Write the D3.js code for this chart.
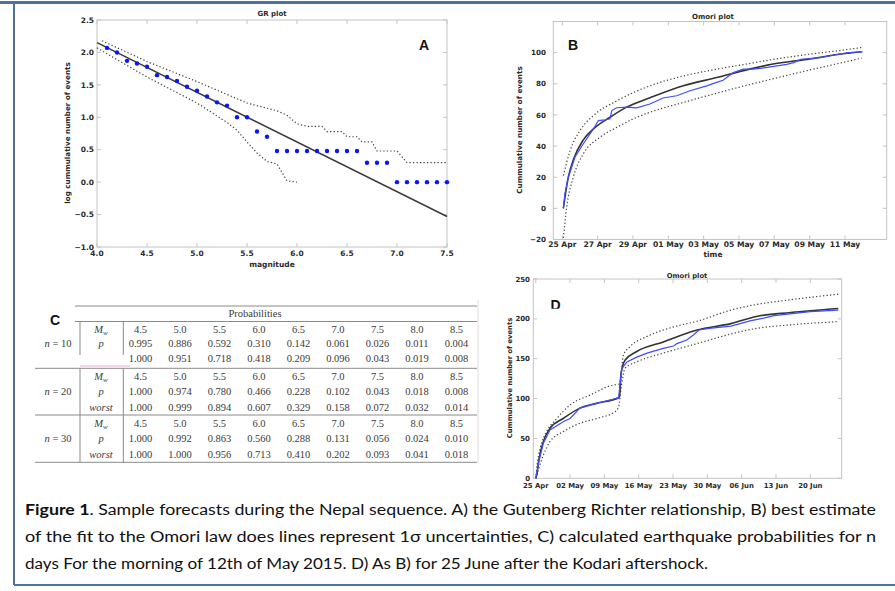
<!DOCTYPE html>
<html><head><meta charset="utf-8">
<script src="https://cdn.jsdelivr.net/npm/d3@7"></script>
<style>body{margin:0;background:#fff}svg{display:block}</style>
</head><body>
<svg id="c" width="895" height="591"></svg>
<script>
// ---------- DATA ----------
// Panel A: GR plot
const grMag = [4.1,4.2,4.3,4.4,4.5,4.6,4.7,4.8,4.9,5.0,5.1,5.2,5.3,5.4,5.5,5.6,5.7,5.8,5.9,6.0,6.1,6.2,6.3,6.4,6.5,6.6,6.7,6.8,6.9,7.0,7.1,7.2,7.3,7.4,7.5];
const grLogN = [2.07,2.00,1.87,1.83,1.78,1.65,1.62,1.56,1.47,1.41,1.32,1.23,1.18,1.00,1.00,0.78,0.70,0.48,0.48,0.48,0.48,0.48,0.48,0.48,0.48,0.48,0.30,0.30,0.30,0.00,0.00,0.00,0.00,0.00,0.00];
const grFitMag = [4.0,7.5];
const grFitVal = [2.15,-0.53];
const grUpMag = [4.05,4.5,5.0,5.5,5.8,5.9,6.0,6.1,6.25,6.3,6.45,6.5,6.6,6.65,6.75,6.8,7.0,7.1,7.5];
const grUpVal = [2.18,1.86,1.55,1.22,1.1,1.03,0.9,0.86,0.86,0.78,0.78,0.70,0.70,0.62,0.62,0.48,0.48,0.30,0.30];
const grLoMag = [4.0,4.5,5.0,5.3,5.4,5.5,5.6,5.7,5.8,5.85,5.9,6.0];
const grLoVal = [2.07,1.62,1.22,0.92,0.8,0.62,0.45,0.32,0.28,0.15,0.02,0.0];
const grXTicks = [4.0,4.5,5.0,5.5,6.0,6.5,7.0,7.5];
const grYTicks = [-1.0,-0.5,0.0,0.5,1.0,1.5,2.0,2.5];

// Panel B: Omori plot (days since 25 Apr)
const bFitT = [0.06,0.34,0.62,1.19,1.76,2.7,3.64,4.96,6.85,8.74,10.6,11.85,13.86,16,16.94];
const bFitV = [0,20,31,44,51,58.5,65,71,78.7,84,89.4,92.5,95.7,99.4,100.6];
const bUpT = [0.06,0.44,1.0,1.76,3.08,4.96,6.85,8.74,10.6,11.85,13.86,16,16.94];
const bUpV = [21,37,50,59.6,69,78.7,85,89.4,93,95.5,98.8,101.8,103.3];
const bLoT = [0.06,0.25,0.62,1.19,2.13,3.08,4.02,4.96,6.85,8.74,10.6,11.85,13.86,16,16.94];
const bLoV = [-19,1,20,35,45.7,52,57.5,61.7,68,74,79.5,83,88.5,94,96.5];
const bObsT = [0.06,0.15,0.34,0.72,1.19,1.76,2.04,2.42,2.7,2.8,3.08,3.64,4.2,4.96,5.7,6.47,7.23,8.17,8.74,9.1,9.68,10.24,10.8,11.6,12.7,13.1,13.5,14.6,15.4,16.2,17.0];
const bObsV = [0,9.6,20,33,41.5,51,56.4,56.8,57.5,62.8,64.6,65,64.5,67,70.9,72.3,75.5,78.7,80.9,82.3,87.2,89.4,89.4,90.5,92.5,93.6,95.7,96.8,98.5,100,100.4];
const bXTicks = [0,2,4,6,8,10,12,14,16];
const bXLabels = ["25 Apr","27 Apr","29 Apr","01 May","03 May","05 May","07 May","09 May","11 May"];
const bYTicks = [-20,0,20,40,60,80,100];

// Panel D: Omori plot (days since 25 Apr)
const dFitT = [0,0.2,0.6,1.55,2.9,5.6,9,12.4,16.9,17.1,17.3,17.6,18.2,20.6,26,32.9,39.8,45,52,61.7];
const dFitV = [0,4,22,46,62.7,75,88,94,101,103,125,138,148,159,171,186,194,203,208,213];
const dUpT = [0,0.3,0.9,2.2,4.3,7,11.1,15.8,17.0,17.2,17.5,17.9,19.2,22.7,26,29.4,32.9,39.8,45,52,61.7];
const dUpV = [0,18,37.6,58.5,75,92,104.5,117,118,110,135,155,165,178,186,192,197,211,218,224,231];
const dLoT = [0,0.2,1.55,2.9,5.6,9,12.4,16.2,16.9,17.5,18.2,20.6,26,32.9,39.8,45,52,61.7];
const dLoV = [0,4,29,46,58.5,69,75,83.6,90,117,138,146,157,169,181,188,192.5,196.6];
const dObsT = [0,0.6,1.55,2.9,5.6,7,9,12.4,16.9,17.5,18.6,20.6,22.7,26,28.1,28.8,30.8,32.2,33.3,35.4,39.8,43.7,46.5,48.6,56,61.7];
const dObsV = [0,20,44,60.6,71,75,88,94,101,137,146,152,157,163,166,169,173.5,180,186,188,191,197.5,201,204,209,211];
const dXTicks = [0,7,14,21,28,35,42,49,56];
const dXLabels = ["25 Apr","02 May","09 May","16 May","23 May","30 May","06 Jun","13 Jun","20 Jun"];
const dYTicks = [0,50,100,150,200,250];

// Table C
const tblMw = ["4.5","5.0","5.5","6.0","6.5","7.0","7.5","8.0","8.5"];
const n10p = ["0.995","0.886","0.592","0.310","0.142","0.061","0.026","0.011","0.004"];
const n10worst = ["1.000","0.951","0.718","0.418","0.209","0.096","0.043","0.019","0.008"];
const n20p = ["1.000","0.974","0.780","0.466","0.228","0.102","0.043","0.018","0.008"];
const n20worst = ["1.000","0.999","0.894","0.607","0.329","0.158","0.072","0.032","0.014"];
const n30p = ["1.000","0.992","0.863","0.560","0.288","0.131","0.056","0.024","0.010"];
const n30worst = ["1.000","1.000","0.956","0.713","0.410","0.202","0.093","0.041","0.018"];

const captionLines = [
  ["Figure 1", ". Sample forecasts during the Nepal sequence. A) the Gutenberg Richter relationship, B) best estimate"],
  ["", "of the fit to the Omori law does lines represent 1σ uncertainties, C) calculated earthquake probabilities for n"],
  ["", "days For the morning of 12th of May 2015. D) As B) for 25 June after the Kodari aftershock."]
];

// ---------- DRAW ----------
const svg = d3.select("#c");
const MPL = "DejaVu Sans";
const frameCol = "#c4c4c4", tickCol = "#2a2a2a";
const dotted = "1.3,2.2";

// outer border
const borderCol = "#50709e";
svg.append("line").attr("x1",0).attr("x2",895).attr("y1",2.5).attr("y2",2.5).attr("stroke",borderCol).attr("stroke-width",3);
svg.append("line").attr("x1",14).attr("x2",14).attr("y1",2).attr("y2",585).attr("stroke",borderCol).attr("stroke-width",2);
svg.append("line").attr("x1",14).attr("x2",895).attr("y1",585).attr("y2",585).attr("stroke",borderCol).attr("stroke-width",2);

function frame(g, x0, x1, y0, y1){
  g.append("rect").attr("x",x0).attr("y",y0).attr("width",x1-x0).attr("height",y1-y0)
    .attr("fill","none").attr("stroke",frameCol).attr("stroke-width",1);
}
function label(g, x, y, txt, size, anchor, rot){
  const t = g.append("text").attr("x",x).attr("y",y).text(txt)
    .attr("font-family",MPL).attr("font-weight","bold").attr("font-size",size)
    .attr("fill",tickCol).attr("text-anchor",anchor||"middle");
  if(rot) t.attr("transform",`rotate(${rot},${x},${y})`);
  return t;
}
function bigLetter(x,y,txt,anchor){
  return svg.append("text").attr("x",x).attr("y",y).text(txt)
    .attr("font-family","Liberation Sans").attr("font-weight","bold").attr("font-size",14)
    .attr("fill","#111").attr("text-anchor",anchor||"middle");
}

// ===== Panel A =====
{
  const g = svg.append("g");
  const x = d3.scaleLinear().domain([4,7.5]).range([97,447]);
  const y = d3.scaleLinear().domain([-1,2.5]).range([247,20]);
  frame(g,97,447,20,247);
  grXTicks.forEach(v=>{
    g.append("line").attr("x1",x(v)).attr("x2",x(v)).attr("y1",247).attr("y2",243).attr("stroke",frameCol);
    g.append("line").attr("x1",x(v)).attr("x2",x(v)).attr("y1",20).attr("y2",24).attr("stroke",frameCol);
    label(g,x(v),256,v.toFixed(1),7.5,"middle");
  });
  grYTicks.forEach(v=>{
    g.append("line").attr("x1",97).attr("x2",101).attr("y1",y(v)).attr("y2",y(v)).attr("stroke",frameCol);
    g.append("line").attr("x1",447).attr("x2",443).attr("y1",y(v)).attr("y2",y(v)).attr("stroke",frameCol);
    label(g,94,y(v)+2.7,(v<0?"\u2212":"")+Math.abs(v).toFixed(1),7.5,"end");
  });
  label(g,272,16,"GR plot",7,"middle");
  label(g,272,267,"magnitude",7.5,"middle");
  label(g,70,133,"log cummulative number of events",7.2,"middle",-90);
  const ln = d3.line().x(d=>x(d[0])).y(d=>y(d[1]));
  g.append("path").attr("d",ln(d3.zip(grUpMag,grUpVal))).attr("fill","none").attr("stroke","#444").attr("stroke-width",1.2).attr("stroke-dasharray",dotted);
  g.append("path").attr("d",ln(d3.zip(grLoMag,grLoVal))).attr("fill","none").attr("stroke","#444").attr("stroke-width",1.2).attr("stroke-dasharray",dotted);
  g.append("path").attr("d",ln(d3.zip(grFitMag,grFitVal))).attr("fill","none").attr("stroke","#3c3c3c").attr("stroke-width",1.5);
  g.selectAll("circle").data(d3.zip(grMag,grLogN)).join("circle")
    .attr("cx",d=>x(d[0])).attr("cy",d=>y(d[1])).attr("r",2.2).attr("fill","#0a14ff");
  bigLetter(424,50,"A");
}

// ===== Panel B =====
{
  const g = svg.append("g");
  const x = d3.scaleLinear().domain([-0.51,18.36]).range([553.3,886.7]);
  const y = d3.scaleLinear().domain([-20,120]).range([239.5,21.5]);
  frame(g,553.3,886.7,21.5,239.5);
  bXTicks.forEach((v,i)=>{
    g.append("line").attr("x1",x(v)).attr("x2",x(v)).attr("y1",239.5).attr("y2",235.5).attr("stroke",frameCol);
    g.append("line").attr("x1",x(v)).attr("x2",x(v)).attr("y1",21.5).attr("y2",25.5).attr("stroke",frameCol);
    label(g,x(v),247,bXLabels[i],7.6,"middle");
  });
  bYTicks.forEach(v=>{
    g.append("line").attr("x1",553.3).attr("x2",557.3).attr("y1",y(v)).attr("y2",y(v)).attr("stroke",frameCol);
    g.append("line").attr("x1",886.7).attr("x2",882.7).attr("y1",y(v)).attr("y2",y(v)).attr("stroke",frameCol);
    label(g,546,y(v)+2.6,(v<0?"\u2212":"")+Math.abs(v),7.2,"end");
  });
  label(g,713,19,"Omori plot",7,"middle");
  label(g,713,257,"time",7.5,"middle");
  label(g,522,130,"Cummulative number of events",7.2,"middle",-90);
  const sm = d3.line().x(d=>x(d[0])).y(d=>y(d[1])).curve(d3.curveMonotoneX);
  const ln = d3.line().x(d=>x(d[0])).y(d=>y(d[1]));
  g.append("path").attr("d",sm(d3.zip(bUpT,bUpV))).attr("fill","none").attr("stroke","#444").attr("stroke-width",1.2).attr("stroke-dasharray",dotted);
  g.append("path").attr("d",sm(d3.zip(bLoT,bLoV))).attr("fill","none").attr("stroke","#444").attr("stroke-width",1.2).attr("stroke-dasharray",dotted);
  g.append("path").attr("d",sm(d3.zip(bFitT,bFitV))).attr("fill","none").attr("stroke","#333").attr("stroke-width",1.6);
  g.append("path").attr("d",ln(d3.zip(bObsT,bObsV))).attr("fill","none").attr("stroke","#3f4dff").attr("stroke-width",1.2);
  bigLetter(568,50,"B","start");
}

// ===== Panel D =====
{
  const g = svg.append("g");
  const x = d3.scaleLinear().domain([-0.5,62.4]).range([533.3,841.7]);
  const y = d3.scaleLinear().domain([0,250]).range([478.3,279]);
  frame(g,533.3,841.7,279,478.3);
  dXTicks.forEach((v,i)=>{
    g.append("line").attr("x1",x(v)).attr("x2",x(v)).attr("y1",478.3).attr("y2",474.3).attr("stroke",frameCol);
    g.append("line").attr("x1",x(v)).attr("x2",x(v)).attr("y1",279).attr("y2",283).attr("stroke",frameCol);
    label(g,x(v),487.5,dXLabels[i],6.9,"middle");
  });
  dYTicks.forEach(v=>{
    g.append("line").attr("x1",533.3).attr("x2",537.3).attr("y1",y(v)).attr("y2",y(v)).attr("stroke",frameCol);
    g.append("line").attr("x1",841.7).attr("x2",837.7).attr("y1",y(v)).attr("y2",y(v)).attr("stroke",frameCol);
    label(g,530,y(v)+2.6,String(v),7,"end");
  });
  label(g,687,278,"Omori plot",6.8,"middle");
  label(g,512,378,"Cummulative number of events",6.8,"middle",-90);
  const sm = d3.line().x(d=>x(d[0])).y(d=>y(d[1])).curve(d3.curveMonotoneX);
  const ln = d3.line().x(d=>x(d[0])).y(d=>y(d[1]));
  g.append("path").attr("d",sm(d3.zip(dUpT,dUpV))).attr("fill","none").attr("stroke","#444").attr("stroke-width",1.2).attr("stroke-dasharray",dotted);
  g.append("path").attr("d",sm(d3.zip(dLoT,dLoV))).attr("fill","none").attr("stroke","#444").attr("stroke-width",1.2).attr("stroke-dasharray",dotted);
  g.append("path").attr("d",sm(d3.zip(dFitT,dFitV))).attr("fill","none").attr("stroke","#333").attr("stroke-width",1.6);
  g.append("path").attr("d",ln(d3.zip(dObsT,dObsV))).attr("fill","none").attr("stroke","#3f4dff").attr("stroke-width",1.2);
  svg.append("clipPath").attr("id","dclip").append("rect").attr("x",540).attr("y",290).attr("width",40).attr("height",18.8);
  bigLetter(550.5,309.5,"D","start").attr("clip-path","url(#dclip)");
}

// ===== Table C =====
{
  const g = svg.append("g");
  const SERIF = "Liberation Serif";
  const col = d3.scaleLinear().domain([0,8]).range([140.5,456.5]);
  const lc = "#8a8a8a", tc = "#3a3a3a";
  const hl = (x1,x2,yy,c,w)=>g.append("line").attr("x1",x1).attr("x2",x2).attr("y1",yy).attr("y2",yy).attr("stroke",c||lc).attr("stroke-width",w||1);
  const vl = (xx,y1,y2)=>g.append("line").attr("x1",xx).attr("x2",xx).attr("y1",y1).attr("y2",y2).attr("stroke",lc).attr("stroke-width",1);
  hl(75,477,306); hl(75,477,321.5);
  hl(35,477,368.3); hl(35,477,415); hl(35,477,462.3);
  hl(80,130,366,"#e2a6d8",1);
  vl(80,321.5,355); vl(80,368.3,462.3);
  vl(123.3,321.5,355); vl(123.3,368.3,462.3);
  g.append("line").attr("x1",478).attr("x2",478).attr("y1",300).attr("y2",462).attr("stroke","#ddd");
  const txt = (xx,yy,s,anchor,italic)=>g.append("text").attr("x",xx).attr("y",yy).text(s)
     .attr("font-family",SERIF).attr("font-size",10.5).attr("fill",tc).attr("text-anchor",anchor||"middle")
     .attr("font-style",italic?"italic":"normal");
  txt(255,317,"Probabilities");
  const rowsY = [[332.5,347,362],[379.5,395,410.5],[426.5,442,457.5]];
  const blocks = [["n = 10",n10p,n10worst,false],["n = 20",n20p,n20worst,true],["n = 30",n30p,n30worst,true]];
  blocks.forEach((b,bi)=>{
    const ry = rowsY[bi];
    const nt = g.append("text").attr("x",58).attr("y",ry[1]).attr("font-family",SERIF).attr("font-size",10.5).attr("fill",tc).attr("text-anchor","middle");
    nt.append("tspan").attr("font-style","italic").text("n");
    nt.append("tspan").text(" = "+b[0].split("= ")[1]);
    const mt = g.append("text").attr("x",101).attr("y",ry[0]).attr("font-family",SERIF).attr("font-size",10.5).attr("fill",tc).attr("text-anchor","middle");
    mt.append("tspan").attr("font-style","italic").text("M");
    mt.append("tspan").attr("font-style","italic").attr("font-size",7).attr("dy",2).text("w");
    txt(101,ry[1],"p","middle",true);
    if(b[3]) txt(101,ry[2],"worst","middle",true);
    tblMw.forEach((s,i)=>txt(col(i),ry[0],s));
    b[1].forEach((s,i)=>txt(col(i),ry[1],s));
    b[2].forEach((s,i)=>txt(col(i),ry[2],s));
  });
  bigLetter(55,325,"C");
}

// ===== Caption =====
{
  const ys = [515,542,569];
  const ends = [876,876,708];
  captionLines.forEach((ln,i)=>{
    const t = svg.append("text").attr("x",25).attr("y",ys[i]).attr("font-family","Lato").attr("font-size",14.5)
      .attr("fill","#111").attr("textLength",ends[i]-25).attr("lengthAdjust","spacingAndGlyphs");
    if(ln[0]) t.append("tspan").attr("font-weight","bold").text(ln[0]);
    t.append("tspan").text(ln[1]);
  });
}
</script>
</body></html>
